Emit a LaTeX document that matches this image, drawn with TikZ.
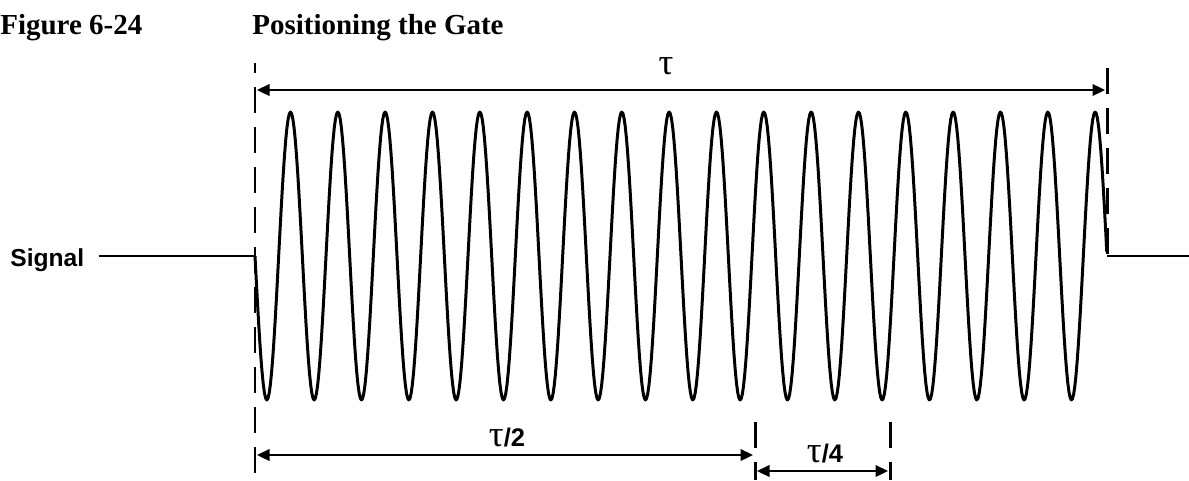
\documentclass[tikz,border=0pt]{standalone}
\usepackage{fontspec}
\setmainfont{Liberation Serif}
\setsansfont{Liberation Sans}
\usepackage{tikz}
\usetikzlibrary{arrows.meta,positioning}

\newcommand{\taufont}{\rmfamily\mdseries\fontsize{21}{21}\selectfont}

\begin{document}
\begin{tikzpicture}[x=0.02cm,y=-0.02cm,
  gate/.style={line width=1.7pt,dash pattern=on 0.52cm off 0.28cm},
  wire/.style={line width=1.1pt},
  dim/.style={line width=1.3pt,{Triangle[length=0.25cm,width=0.23cm]}-{Triangle[length=0.25cm,width=0.23cm]}},
  lbl/.style={font=\sffamily\bfseries\fontsize{14.5}{16}\selectfont,inner sep=0pt}]
\useasboundingbox (0,0) rectangle (1189,480);

% heading
\node[anchor=base west,inner sep=0pt,font=\bfseries\fontsize{16.5}{19}\selectfont] (fig) at (0,34) {Figure 6-24};
\node[anchor=base west,inner sep=0pt,font=\bfseries\fontsize{16.5}{19}\selectfont] (title) at (252,34) {Positioning the Gate};

% gate edges on the signal level
\coordinate (gL) at (255,256);
\coordinate (gR) at (1107,256);
\coordinate (gH) at (755,422);
\coordinate (gQ) at (890,422);
\coordinate (sEnd) at (1189,256);

% signal line outside the burst
\node[anchor=base west,inner sep=0pt,font=\sffamily\bfseries\fontsize{14}{16}\selectfont] (sig) at (10,266) {Signal};
\draw[wire] ([xshift=0.28cm]sig.east |- gL) -- (gL);
\draw[wire] (gR) -- (sEnd);

% burst: 18 cycles between the gate edges
\def\per{47.333}
\def\amp{144}
\draw[line width=1.7pt,line join=round] plot[domain=0:18,samples=721] ({255+\x*\per},{256+\amp*sin(360*\x)});

% dashed gate marks
\draw[gate,dash phase=0.32cm] (255,63) -- (255,480);
\draw[gate] (1107,68) -- (gR);
\draw[gate] (gH) -- (755,480);
\draw[gate] (gQ) -- (890,480);

% dimensions
\coordinate (tL) at (257,90);
\coordinate (tR) at (1105,90);
\draw[dim] (tL) -- (tR);
\node[font=\taufont,inner sep=0pt] (tau) at (666,66) {τ};

\coordinate (hL) at (257,455);
\coordinate (hR) at (753,455);
\draw[dim] (hL) -- (hR);
\node[lbl] (half) at (507,438) {{\taufont τ}/2};

\coordinate (qL) at (757,471);
\coordinate (qR) at (888,471);
\draw[dim] (qL) -- (qR);
\node[lbl] (quarter) at (825,454) {{\taufont τ}/4};
\end{tikzpicture}
\end{document}
